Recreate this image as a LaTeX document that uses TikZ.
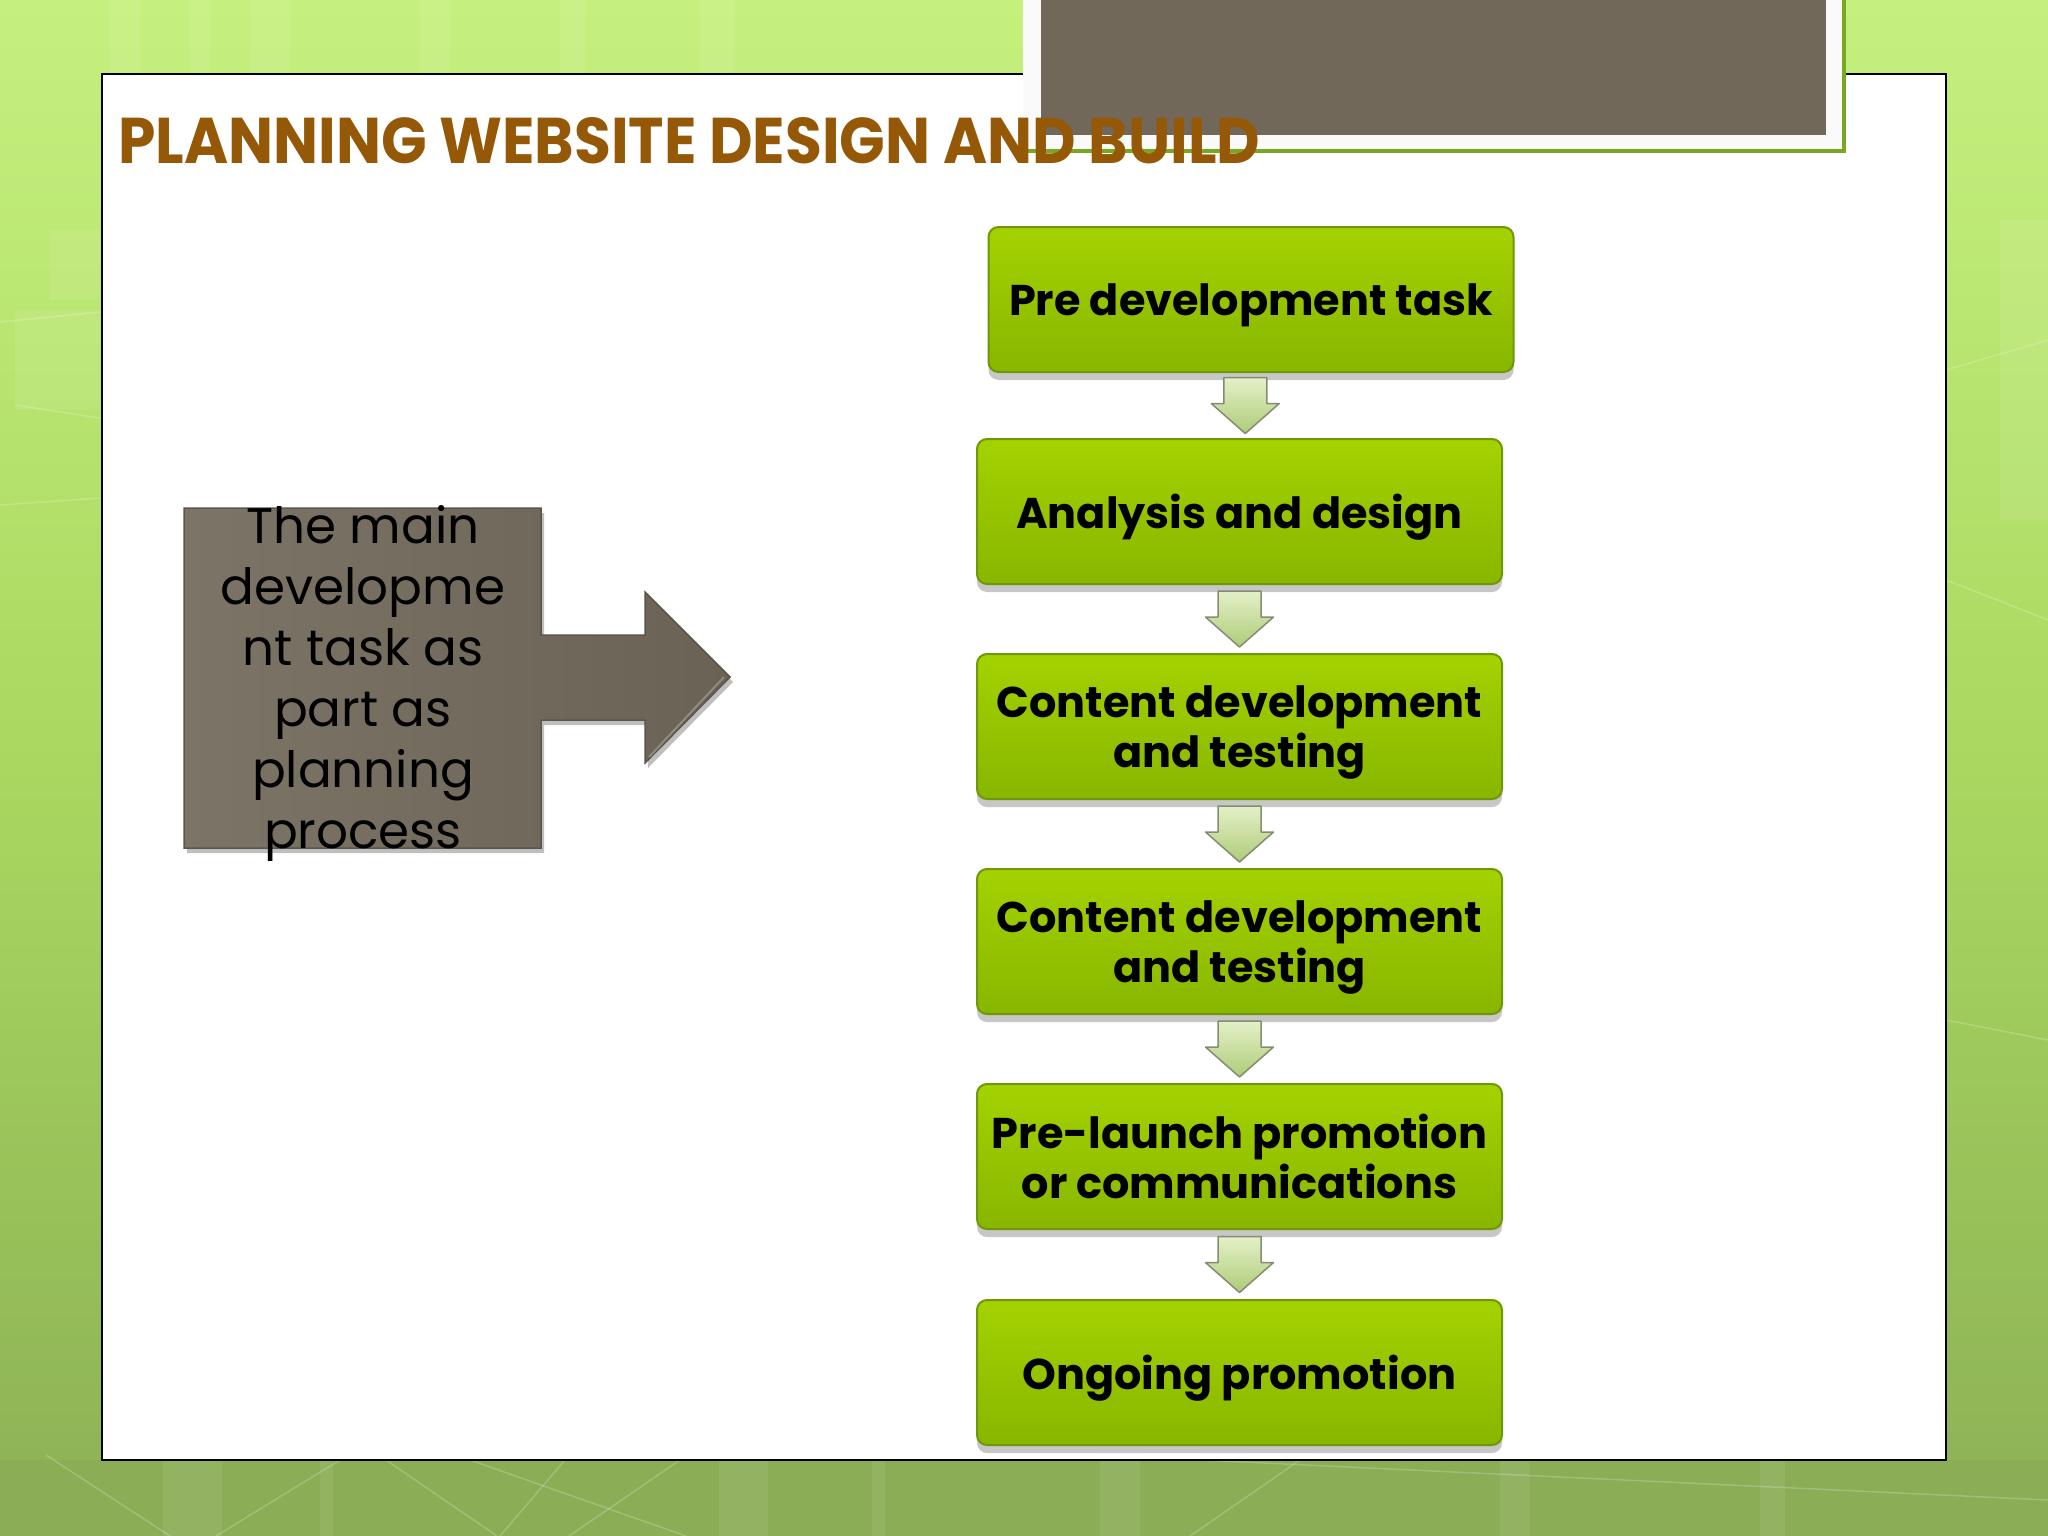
\documentclass[tikz,border=0pt]{standalone}
\usepackage{fontspec}
\setmainfont{Poppins}
\usetikzlibrary{shadows,calc}
\definecolor{bgtop}{HTML}{C6F07E}
\definecolor{bgmid}{HTML}{A8D860}
\definecolor{bgbot}{HTML}{8CB055}
\definecolor{bandc}{HTML}{8AAD56}
\definecolor{titlec}{HTML}{955806}
\definecolor{brownbox}{HTML}{72685A}
\definecolor{framegreen}{HTML}{78A820}
\definecolor{gtop}{HTML}{A4D200}
\definecolor{gbot}{HTML}{88B600}
\definecolor{gedge}{HTML}{6E9808}
\definecolor{callL}{HTML}{7C7467}
\definecolor{callR}{HTML}{6A6255}
\definecolor{callE}{HTML}{5C554A}
\definecolor{arrtop}{HTML}{E4F0C8}
\definecolor{arrbot}{HTML}{AECC78}
\definecolor{arredge}{HTML}{858C72}
\tikzset{
  stepbox/.style={rectangle, rounded corners=10pt, minimum width=525pt, minimum height=145pt,
    draw=gedge, line width=2pt, top color=gtop, bottom color=gbot, align=center,
    font=\fontsize{43}{50}\selectfont\bfseries, text=black, inner sep=0pt, text depth=0pt,
    drop shadow={shadow xshift=0pt, shadow yshift=-8pt, opacity=0.22, fill=black}},
  flowarr/.style={draw=arredge, line width=1.5pt, top color=arrtop, bottom color=arrbot, line join=round},
  calltext/.style={align=center, font=\fontsize{50}{61}\selectfont, text=black, inner sep=0pt},
  bgline/.style={white, opacity=0.2, line width=1.5pt},
  bgstripe/.style={white, opacity=0.08}
}
\newcommand\flowarrow[2]{%
  \path let \p1=($(#1.south)!0.5!(#2.north)$) in [flowarr]
    (\x1-21.5pt,\y1+28pt) -- (\x1+21.5pt,\y1+28pt) -- (\x1+21.5pt,\y1+2pt) --
    (\x1+34pt,\y1+2pt) -- (\x1,\y1-28pt) -- (\x1-34pt,\y1+2pt) --
    (\x1-21.5pt,\y1+2pt) -- cycle;}
\begin{document}
\begin{tikzpicture}[x=1pt,y=-1pt]
\useasboundingbox (0,0) rectangle (2048,1536);
% background
\shade[top color=bgtop, bottom color=bgbot, middle color=bgmid] (0,0) rectangle (2048,1536);
\fill[bandc] (0,1460) rectangle (2048,1536);
\foreach \xx/\ww in {110/30,190/20,250/40,420/30,560/25,700/35}
  \fill[bgstripe] (\xx,0) rectangle ++(\ww,74);
\foreach \xx/\ww in {163/59,320/13,719/49,872/13,1100/40,1500/30,1760/25}
  \fill[bgstripe] (\xx,1460) rectangle ++(\ww,76);
\fill[bgstripe] (50,230) rectangle (100,300);
\fill[bgstripe] (15,310) rectangle (100,410);
\fill[bgstripe] (2000,220) rectangle (2048,520);
% background lines
\draw[bgline] (46,1455) -- (170,1536);
\draw[bgline] (340,1460) -- (216,1536);
\draw[bgline] (386,1460) -- (497,1536);
\draw[bgline] (470,1460) -- (686,1536);
\draw[bgline] (565,1460) -- (500,1536);
\draw[bgline] (680,1460) -- (569,1536);
\draw[bgline] (1300,1460) -- (1190,1536);
\draw[bgline] (1200,1460) -- (2048,1500);
\draw[bgline] (0,322) -- (100,312);
\draw[bgline] (15,405) -- (100,418);
\draw[bgline] (0,505) -- (100,498);
\draw[bgline] (1946,370) -- (2048,340);
\draw[bgline] (1946,580) -- (2048,620);
\draw[bgline] (1946,1020) -- (2048,1040);
% panel
\draw[fill=white, draw=black, line width=1.5pt] (102,74) rectangle (1946,1460);
% top right picture frame
\fill[framegreen] (1027,-5) rectangle (1846,153);
\fill[white!96!gray] (1023,-5) rectangle (1842,149);
\fill[brownbox] (1041,-5) rectangle (1826,135);
% title
\node[anchor=base west, inner sep=0pt, text=titlec, font=\bfseries] (title) at (118,163)
  {\resizebox{1142pt}{46pt}{PLANNING WEBSITE DESIGN AND BUILD}};
% left callout
\path[left color=callL, right color=callR, draw=callE, line width=1.5pt,
  drop shadow={shadow xshift=3pt, shadow yshift=-5pt, opacity=0.25, fill=black}]
  (184,508) -- (541,508) -- (541,635) -- (645,635) -- (645,592) -- (730,677) --
  (645,763) -- (645,720) -- (541,720) -- (541,848) -- (184,848) -- cycle;
\draw[white, opacity=0.25, line width=2pt] (649,757) -- (724,677);
\node[calltext, anchor=north] (maintext) at (363,505)
  {The main\\developme\\nt task as\\part as\\planning\\process};
% flow boxes
\node[stepbox] (b1) at (1251,299.5) {Pre development task};
\node[stepbox] (b2) at (1239.5,511.5) {Analysis and design};
\node[stepbox] (b3) at (1239.5,726.5) {Content development\\and testing};
\node[stepbox] (b4) at (1239.5,941.5) {Content development\\and testing};
\node[stepbox] (b5) at (1239.5,1156.5) {Pre-launch promotion\\or communications};
\node[stepbox] (b6) at (1239.5,1372.5) {Ongoing promotion};
\flowarrow{b1}{b2}
\flowarrow{b2}{b3}
\flowarrow{b3}{b4}
\flowarrow{b4}{b5}
\flowarrow{b5}{b6}
\end{tikzpicture}
\end{document}
